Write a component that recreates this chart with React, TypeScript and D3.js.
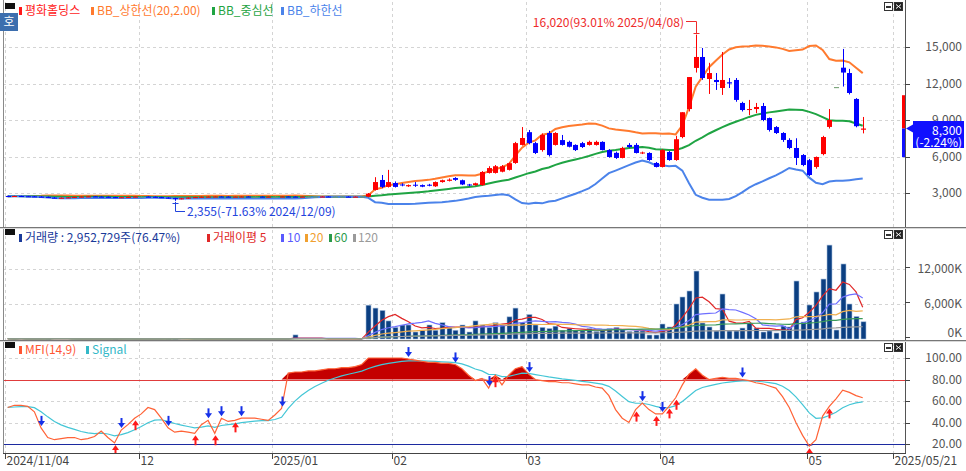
import React from 'react';
import * as d3 from 'd3';

// ---- data (trading-day index 0 = 2024/11/04) ----
const opens = [
  2750,2740,2750,2730,2720,2700,2680,2620,2600,2610,
  2640,2680,2700,2720,2700,2690,2660,2640,2650,2680,
  2700,2700,2690,2660,2620,2580,2500,2560,2620,2660,
  2690,2700,2710,2700,2690,2700,2710,2700,2700,2690,
  2700,2700,2710,2700,2690,2700,2700,2700,2710,2700,
  2700,2700,2690,2700,
  2700,3250,4070,3500,3820,3700,3550,3680,3650,3680,
  3550,3900,4000,4230,4050,3700,3650,3650,4650,4650,
  4750,4900,5470,6950,8000,7100,6530,7930,6950,7350,
  7200,6950,7100,6950,6950,7200,6530,6300,5880,6950,
  6950,6250,6290,5470,5140,6370,5710,7600,9900,13280,
  14180,12370,12290,11630,12100,12290,10400,9820,9900,10150,
  9160,8420,7930,7360,6700,6120,5700,5140,6200,8430,
  11700,13300,12860,10730,8200,
];
const closes = [
  2740,2750,2730,2720,2700,2680,2620,2600,2610,2640,
  2680,2700,2720,2700,2690,2660,2640,2650,2680,2700,
  2700,2690,2660,2620,2580,2500,2560,2620,2660,2690,
  2700,2710,2700,2690,2700,2710,2700,2700,2690,2700,
  2700,2710,2700,2690,2700,2700,2700,2710,2700,2700,
  2700,2690,2700,2700,
  2950,3900,3500,3900,3500,3620,3650,3600,3520,3600,
  3900,4050,4100,4080,3700,3620,3800,4730,5050,5200,
  5200,5450,7100,7520,7100,6290,7770,6120,7930,6950,
  6800,6530,6780,7200,7200,6530,5960,5880,6700,6780,
  6290,6330,5710,5140,6530,5710,7420,9640,12530,14180,
  12450,12860,12120,12290,12000,10650,9820,9900,10070,9000,
  8180,7930,7360,6700,5880,5300,4480,5960,7600,9000,
  11700,12900,11220,8490,8300,
];
const highs = [
  2780,2780,2780,2760,2750,2730,2710,2650,2640,2670,
  2710,2730,2750,2750,2730,2720,2690,2680,2710,2730,
  2730,2730,2720,2690,2650,2610,2590,2650,2690,2720,
  2730,2740,2740,2730,2720,2740,2740,2730,2730,2720,
  2730,2740,2740,2730,2720,2730,2730,2740,2740,2730,
  2730,2730,2720,2730,
  3000,4300,4480,4900,3950,3800,3700,3900,3700,3750,
  3950,4100,4200,4300,4100,3750,3850,4800,5200,5300,
  5300,5500,7200,8420,8180,7200,7900,8100,8000,7770,
  7300,7000,7200,7300,7300,7250,6600,6400,6800,7100,
  7100,6400,6350,5550,6600,6450,7700,9640,12530,16020,
  14920,13700,12860,14590,12450,12450,10500,10650,10400,10400,
  9200,8500,8000,7500,7500,6200,5800,6000,7700,9900,
  11700,14840,13200,10800,9250,
];
const lows = [
  2720,2710,2710,2700,2680,2660,2600,2570,2580,2590,
  2620,2660,2680,2680,2670,2640,2620,2620,2630,2660,
  2670,2670,2640,2600,2550,2355,2480,2540,2600,2640,
  2670,2680,2680,2670,2670,2680,2680,2680,2670,2670,
  2680,2680,2680,2670,2670,2680,2680,2680,2680,2680,
  2680,2670,2670,2680,
  2650,3200,3400,3450,3450,3550,3500,3500,3480,3550,
  3500,3850,3950,4000,3650,3550,3600,3600,4600,4600,
  4700,4850,5400,6900,7000,6200,6400,6000,6900,6900,
  6750,6450,6700,6900,6900,6500,5900,5800,5850,6700,
  6250,6200,5650,5100,5100,5650,5650,7500,9700,12900,
  12300,11140,11470,11060,11630,10500,9700,9400,9560,8900,
  8050,7850,7200,6600,5300,5200,4400,5000,6100,8300,
  11700,11750,11100,8400,7900,
];
// volume in thousand shares
const volumes = [
  40,30,50,30,20,40,60,50,40,30,
  30,20,30,20,40,30,60,40,30,20,
  30,40,30,50,60,80,50,40,30,20,
  30,20,30,20,20,30,20,30,20,30,
  20,30,40,700,30,20,30,20,20,30,
  20,20,30,40,
  5800,5300,4900,3100,2000,2400,2400,1200,1500,2400,
  1500,2800,2000,1500,2400,1200,3100,2400,2000,2800,
  2400,3800,5300,2800,4200,2400,2000,1800,2200,1500,
  1800,1500,1400,1800,1300,1500,1800,2000,1600,1300,
  1400,1370,690,690,2570,2060,6000,7200,8230,11650,
  2740,2060,1370,7710,1370,1370,1880,2740,1880,1200,
  1370,1030,2230,2060,9940,2910,5830,8060,10280,16100,
  1540,12860,6000,3861.3,2952.729,
];
const mfi = [
  54,56,56,55,50,35,26,24,25,26,
  26,24,25,27,32,26,21,33,38,44,
  48,54,52,44,35,31,32,31,30,38,
  42,30,44,41,42,44,44,44,43,42,
  47,53,86,87,87,88,88,89,90,90,
  91,91,92,94,100,100,100,100,100,100,
  99,98,97,96,96,95,95,94,90,84,
  79,81,72,84,75,84,90,92,85,80,
  79,78,78,77,77,76,75,75,73,72,
  65,52,44,40,52,58,52,48,48,55,
  63,75,85,90,84,80,81,82,81,81,
  80,79,77,76,74,72,64,54,40,28,
  18,24,46,55,62,70,68,65,63,
];
const mfiDownArrows = [5,17,24,30,32,35,41,60,67,72,78,95,98,110];
const mfiUpArrows = [16,19,28,31,34,73,94,97,99,100,120,123];

const tickIdx = [0, 20, 40, 58, 78, 98, 120, 133];
const tickLabels = ['2024/11/04', '12', '2025/01', '02', '03', '04', '05', '2025/05/21'];
const priceTicks = [3000, 6000, 9000, 12000, 15000];
const volTicks = [0, 6000, 12000];
const mfiTicks = [20, 40, 60, 80, 100];
const highDate = '2025/04/08';
const lowDate = '2024/12/09';
const stockName = '평화홀딩스';

const FONT = "'Noto Sans CJK KR','Noto Sans',sans-serif";
const UP = '#ff0000';
const DOWN = '#0000ff';

export default function App() {
  const N = closes.length;
  const L = 3, R = 905;
  const xs = d3.scaleLinear().domain([0, 134]).range([5, 5 + 6.68 * 134]);
  const cx = (i: number) => xs(i + 0.4);
  const yP = d3.scaleLinear().domain([3000, 15000]).range([193, 47]);
  const yV = d3.scaleLinear().domain([0, 12000]).range([339, 269]);
  const yM = d3.scaleLinear().domain([20, 100]).range([444, 358]);
  const idx = d3.range(N);

  const bb = idx.map((i) => {
    const w = closes.slice(Math.max(0, i - 19), i + 1);
    const m = d3.mean(w) as number;
    const sd = Math.sqrt(d3.mean(w.map((v) => (v - m) ** 2)) as number);
    return { m, u: m + 2 * sd, l: m - 2 * sd };
  });
  const ma = (p: number) => idx.map((i) => d3.mean(volumes.slice(Math.max(0, i - p + 1), i + 1)) as number);
  const signal: number[] = [];
  mfi.forEach((v, i) => signal.push(i === 0 ? v : signal[i - 1] + (v - signal[i - 1]) * 0.2));

  const mk = (arr: number[], y: (v: number) => number) =>
    d3.line<number>().x((_, i) => cx(i)).y((d) => y(d))(arr) as string;

  const fmt = d3.format(',');
  const last = closes[N - 1];
  const prev = closes[N - 2];
  const chg = ((last - prev) / prev) * 100;
  const hiI = d3.maxIndex(highs);
  const loI = d3.minIndex(lows);
  const hiPct = ((highs[hiI] - last) / last) * 100;
  const loPct = ((lows[loI] - last) / last) * 100;
  const volLast = volumes[N - 1];
  const volPct = (volLast / volumes[N - 2]) * 100;

  const overArea = d3.area<number>().x((_, i) => cx(i)).y0(yM(80)).y1((d) => yM(Math.max(80, d)))(mfi) as string;
  const underArea = d3.area<number>().x((_, i) => cx(i)).y0(yM(20)).y1((d) => yM(Math.min(20, d)))(mfi) as string;

  const gridX = tickIdx.map((k) => Math.round(xs(k)) + 0.5);
  const panels = [
    { t: 0, b: 227 },
    { t: 228, b: 340 },
    { t: 341, b: 453 },
  ];

  const btns = (y: number) => (
    <g>
      <rect x={884.5} y={y + 0.5} width={8} height={8} fill="#fff" stroke="#333" />
      <rect x={886} y={y + 4} width={5} height={2} fill="#333" />
      <rect x={894.5} y={y + 0.5} width={8} height={8} fill="#222" stroke="#333" />
      <path d={`M${896},${y + 2.5}L${901},${y + 6.5}M${901},${y + 2.5}L${896},${y + 6.5}`} stroke="#fff" strokeWidth={1} />
    </g>
  );

  const volMAs = [
    { p: 5, c: '#e02828' },
    { p: 10, c: '#6f6fff' },
    { p: 20, c: '#f0b050' },
    { p: 60, c: '#3a9a5a' },
    { p: 120, c: '#9a9a9a' },
  ];
  const hx = Math.round(cx(hiI));
  const lx = Math.round(cx(loI));

  return (
    <svg width={966} height={471} style={{ display: 'block', position: 'absolute', left: 0, top: 0, background: '#fff' }} fontFamily={FONT}>
      <defs>
        {panels.map((p, k) => (
          <clipPath id={`clip${k}`} key={k}>
            <rect x={L + 1} y={p.t} width={R - L - 1} height={p.b - p.t} />
          </clipPath>
        ))}
      </defs>
      <rect x={0} y={0} width={966} height={471} fill="#fff" />

      {/* grids */}
      {panels.map((p, k) => (
        <g key={k}>
          {gridX.map((x, j) => (
            <line key={j} x1={x} x2={x} y1={p.t + 2} y2={p.b} stroke="#d4d4d4" strokeDasharray="3,3" />
          ))}
        </g>
      ))}
      {priceTicks.map((v) => (
        <line key={v} x1={L} x2={R} y1={Math.round(yP(v)) + 0.5} y2={Math.round(yP(v)) + 0.5} stroke="#d4d4d4" strokeDasharray="3,3" />
      ))}
      {volTicks.filter((v) => v > 0).map((v) => (
        <line key={v} x1={L} x2={R} y1={Math.round(yV(v)) + 0.5} y2={Math.round(yV(v)) + 0.5} stroke="#d4d4d4" strokeDasharray="3,3" />
      ))}
      {mfiTicks.filter((v) => v !== 80 && v !== 20).map((v) => (
        <line key={v} x1={L} x2={R} y1={Math.round(yM(v)) + 0.5} y2={Math.round(yM(v)) + 0.5} stroke="#d4d4d4" strokeDasharray="3,3" />
      ))}

      {/* price panel */}
      <g clipPath="url(#clip0)">
        <path d={mk(bb.map((b) => b.u), yP)} fill="none" stroke="#ff7a2e" strokeWidth={2} />
        <path d={mk(bb.map((b) => b.m), yP)} fill="none" stroke="#1fa443" strokeWidth={2} />
        <path d={mk(bb.map((b) => b.l), yP)} fill="none" stroke="#4b83ea" strokeWidth={2} />
        {idx.map((i) => {
          const o = opens[i], c = closes[i];
          const col = c > o ? UP : c < o ? DOWN : '#6a9a6a';
          const x = Math.round(cx(i));
          const top = yP(Math.max(o, c));
          const h = Math.max(1, yP(Math.min(o, c)) - top);
          return (
            <g key={i}>
              <line x1={x + 0.5} x2={x + 0.5} y1={yP(highs[i])} y2={yP(lows[i])} stroke={col} strokeWidth={1} />
              <rect x={x - 2} y={top} width={5} height={h} fill={col} />
            </g>
          );
        })}
      </g>
      {/* high / low markers */}
      <g>
        <text x={hx - 12} y={27} textAnchor="end" fontSize={12} fill="#ee2a2a">
          {`${fmt(highs[hiI])}(${hiPct.toFixed(2)}% ${highDate})`}
        </text>
        <path d={`M${hx - 10},${21.5}H${hx + 0.5}V${yP(highs[hiI]) - 1}M${hx - 2.5},${Math.round(yP(highs[hiI])) - 1.5}H${hx + 3.5}`} fill="none" stroke="#ee2a2a" />
        <path d={`M${lx + 0.5},${yP(lows[loI]) + 1}V${211.5}H${lx + 10}M${lx - 2.5},${Math.round(yP(lows[loI])) + 2.5}H${lx + 3.5}`} fill="none" stroke="#2244dd" />
        <text x={lx + 12} y={216} fontSize={12} fill="#2244dd">
          {`${fmt(lows[loI])}(${loPct.toFixed(2)}% ${lowDate})`}
        </text>
      </g>

      {/* volume panel */}
      <g clipPath="url(#clip1)">
        {idx.map((i) => {
          const x = Math.round(cx(i));
          const top = yV(volumes[i]);
          const h = yV(0) - top;
          return h > 0.3 ? (
            <rect key={i} x={x - 2} y={top} width={5} height={Math.max(1, h)} fill="#0b3f82" stroke="#a9c0de" strokeWidth={0.6} />
          ) : null;
        })}
        {volMAs.map((m) => (
          <path key={m.p} d={mk(ma(m.p), yV)} fill="none" stroke={m.c} strokeWidth={1.2} />
        ))}
      </g>

      {/* MFI panel */}
      <g clipPath="url(#clip2)">
        <path d={overArea} fill="#c40000" />
        <path d={underArea} fill="#1a1a9a" />
        <line x1={L} x2={R} y1={Math.round(yM(80)) + 0.5} y2={Math.round(yM(80)) + 0.5} stroke="#e03c3c" strokeWidth={1.2} />
        <line x1={L} x2={R} y1={Math.round(yM(20)) + 0.5} y2={Math.round(yM(20)) + 0.5} stroke="#1c2aa0" strokeWidth={1.2} />
        <path d={mk(signal, yM)} fill="none" stroke="#44c6d6" strokeWidth={1.2} />
        <path d={mk(mfi, yM)} fill="none" stroke="#ff6236" strokeWidth={1.2} />
        {mfiDownArrows.map((i) => {
          const x = Math.round(cx(i)) + 0.5, y = yM(mfi[i]) - 2;
          return (
            <g key={'d' + i} fill="#1530e8" stroke="none">
              <rect x={x - 1} y={y - 10} width={2} height={6} />
              <path d={`M${x - 3.5},${y - 5}L${x + 3.5},${y - 5}L${x},${y}Z`} />
            </g>
          );
        })}
        {mfiUpArrows.map((i) => {
          const x = Math.round(cx(i)) + 0.5, y = yM(mfi[i]) + 2;
          return (
            <g key={'u' + i} fill="#ff1a1a" stroke="none">
              <rect x={x - 1} y={y + 4} width={2} height={6} />
              <path d={`M${x - 3.5},${y + 5}L${x + 3.5},${y + 5}L${x},${y}Z`} />
            </g>
          );
        })}
      </g>

      {/* frames */}
      <line x1={3.5} x2={3.5} y1={0} y2={453} stroke="#8a8a8a" />
      <line x1={R + 0.5} x2={R + 0.5} y1={0} y2={453} stroke="#555" />
      <line x1={0} x2={966} y1={227.5} y2={227.5} stroke="#777" />
      <line x1={0} x2={966} y1={228.5} y2={228.5} stroke="#d8d8d8" />
      <line x1={0} x2={966} y1={340.5} y2={340.5} stroke="#777" />
      <line x1={0} x2={966} y1={341.5} y2={341.5} stroke="#d8d8d8" />
      <line x1={3} x2={R + 1} y1={453.5} y2={453.5} stroke="#444" />

      {/* right axes */}
      {priceTicks.map((v) => (
        <g key={v}>
          <line x1={R} x2={R + 5} y1={Math.round(yP(v)) + 0.5} y2={Math.round(yP(v)) + 0.5} stroke="#444" />
          <text x={962} y={yP(v)} dy="0.35em" textAnchor="end" fontSize={12} fill="#555">{fmt(v)}</text>
        </g>
      ))}
      {volTicks.map((v) => (
        <g key={v}>
          <line x1={R} x2={R + 5} y1={Math.round(yV(v)) - 1.5} y2={Math.round(yV(v)) - 1.5} stroke="#444" />
          <text x={962} y={v === 0 ? 333 : yV(v)} dy="0.35em" textAnchor="end" fontSize={12} fill="#555">{fmt(v) + 'K'}</text>
        </g>
      ))}
      {mfiTicks.map((v) => (
        <g key={v}>
          <line x1={R} x2={R + 5} y1={Math.round(yM(v)) + 0.5} y2={Math.round(yM(v)) + 0.5} stroke="#444" />
          <text x={962} y={yM(v)} dy="0.35em" textAnchor="end" fontSize={12} fill="#555">{v.toFixed(2)}</text>
        </g>
      ))}
      {/* limit range bar & current price */}
      <rect x={R - 3} y={yP(prev * 1.3)} width={3} height={yP(last) - yP(prev * 1.3)} fill="#ff0000" />
      <rect x={R - 3} y={yP(last)} width={3} height={yP(prev * 0.7) - yP(last)} fill="#1010ff" />
      <path d={`M${R + 1},${yP(last)}L${R + 8},${yP(last) - 4}L${R + 8},${yP(last) + 4}Z`} fill="#1010ff" />
      <rect x={913} y={121} width={51} height={27} fill="#1010ff" />
      <text x={962} y={131} dy="0.35em" textAnchor="end" fontSize={12} fill="#fff">{fmt(last)}</text>
      <text x={962} y={143} dy="0.35em" textAnchor="end" fontSize={12} fill="#fff">{`(${chg.toFixed(2)}%)`}</text>

      {/* x axis */}
      {tickIdx.map((k, j) => (
        <g key={k}>
          <line x1={gridX[j]} x2={gridX[j]} y1={453} y2={459} stroke="#444" />
          <text x={gridX[j] + 1} y={465} fontSize={12} fill="#444">{tickLabels[j]}</text>
        </g>
      ))}

      {/* buttons */}
      {btns(2)}
      {btns(230)}
      {btns(343)}

      {/* legends */}
      <rect x={5} y={3} width={10} height={6} fill="#111" />
      <rect x={0} y={13} width={18} height={18} fill="#3c6eae" />
      <text x={9} y={22} dy="0.35em" textAnchor="middle" fontSize={12} fill="#fff">호</text>
      <g fontSize={12}>
        <rect x={19} y={7} width={3} height={8} fill="#ff1a1a" />
        <text x={25} y={11} dy="0.35em" fill="#ff1a1a">{stockName}</text>
        <rect x={91} y={7} width={3} height={8} fill="#ff7a2e" />
        <text x={97} y={11} dy="0.35em" fill="#ff7a2e">BB_상한선(20,2.00)</text>
        <rect x={212} y={7} width={3} height={8} fill="#1fa443" />
        <text x={218} y={11} dy="0.35em" fill="#1fa443">BB_중심선</text>
        <rect x={281} y={7} width={3} height={8} fill="#4b83ea" />
        <text x={287} y={11} dy="0.35em" fill="#4b83ea">BB_하한선</text>
      </g>
      <rect x={5} y={229} width={10} height={6} fill="#111" />
      <g fontSize={12}>
        <rect x={19} y={234} width={3} height={8} fill="#1a3a9a" />
        <text x={25} y={238} dy="0.35em" fill="#1a3a9a">{`거래량 : ${fmt(Math.round(volLast * 1000))}주(${volPct.toFixed(2)}%)`}</text>
        <rect x={207} y={234} width={3} height={8} fill="#e02828" />
        <text x={213} y={238} dy="0.35em" fill="#e02828">거래이평 5</text>
        <rect x={281} y={234} width={3} height={8} fill="#5a5aff" />
        <text x={287} y={238} dy="0.35em" fill="#5a5aff">10</text>
        <rect x={305} y={234} width={3} height={8} fill="#f0a030" />
        <text x={310} y={238} dy="0.35em" fill="#f0a030">20</text>
        <rect x={329} y={234} width={3} height={8} fill="#2a9a4a" />
        <text x={334} y={238} dy="0.35em" fill="#2a9a4a">60</text>
        <rect x={353} y={234} width={3} height={8} fill="#9a9a9a" />
        <text x={358} y={238} dy="0.35em" fill="#9a9a9a">120</text>
      </g>
      <rect x={5} y={342} width={10} height={6} fill="#111" />
      <g fontSize={12}>
        <rect x={19} y={346} width={3} height={8} fill="#ff5533" />
        <text x={25} y={350} dy="0.35em" fill="#ff5533">MFI(14,9)</text>
        <rect x={86} y={346} width={3} height={8} fill="#33b8c8" />
        <text x={92} y={350} dy="0.35em" fill="#33b8c8">Signal</text>
      </g>
    </svg>
  );
}
